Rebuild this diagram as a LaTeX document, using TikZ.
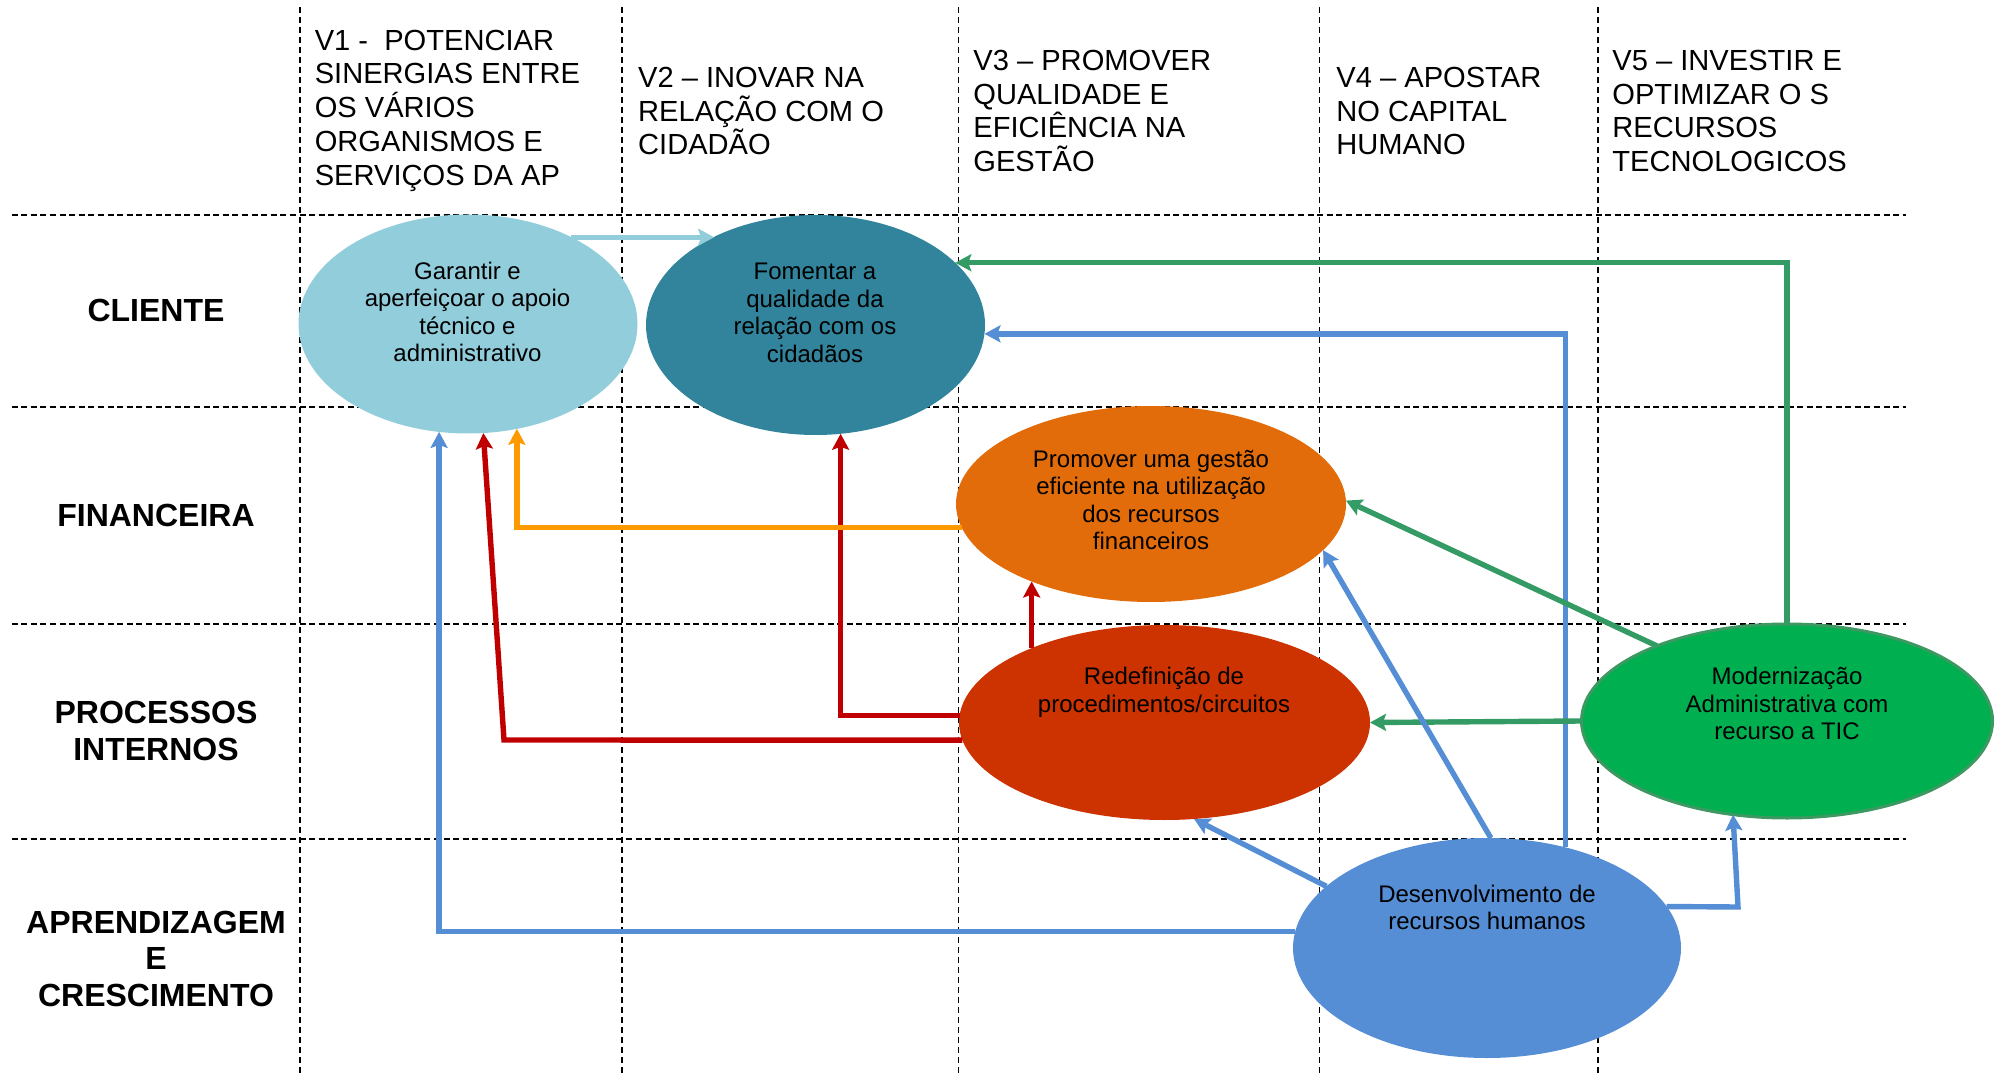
\documentclass[tikz,border=0pt]{standalone}
\usepackage{fontspec}
\setmainfont{Liberation Sans}
\usetikzlibrary{arrows.meta,shapes.geometric}
\definecolor{cGar}{RGB}{146,205,220}
\definecolor{cFom}{RGB}{49,132,155}
\definecolor{cProm}{RGB}{227,108,10}
\definecolor{cRed}{RGB}{204,51,0}
\definecolor{cMod}{RGB}{0,176,80}
\definecolor{cModB}{RGB}{62,152,98}
\definecolor{cDes}{RGB}{85,142,213}
\definecolor{aBlue}{RGB}{85,142,213}
\definecolor{aRed}{RGB}{192,0,0}
\definecolor{aOrange}{RGB}{255,153,0}
\definecolor{aGreen}{RGB}{53,155,100}
\begin{document}
\begin{tikzpicture}[x=0.5pt,y=-0.5pt,
  ell/.style={ellipse,inner sep=0pt,outer sep=0pt},
  etext/.style={align=center,inner sep=0pt,font=\fontsize{12}{13.8}\selectfont},
  head/.style={anchor=west,align=left,inner sep=0pt,font=\fontsize{14.55}{16.9}\selectfont},
  rowlab/.style={align=center,inner sep=0pt,font=\fontsize{16}{18.25}\selectfont\bfseries},
  hgrid/.style={line width=1.4pt,dash pattern=on 3pt off 1.8pt},
  vgrid/.style={line width=0.9pt,dash pattern=on 3pt off 2pt},
  arr/.style={line width=2.7pt,-{Stealth[length=8pt,width=8.5pt,inset=1.5pt]}}
]
\useasboundingbox (0,0) rectangle (2000,1074);
% grid
\foreach \yy in {215,407,624,839} \draw[hgrid] (11.5,\yy) -- (1905.6,\yy);
\foreach \xx in {300,622,958.5,1319.5,1597.6} \draw[vgrid] (\xx,7) -- (\xx,1074);
% ellipses
\node[ell,fill=cGar,minimum width=169.5pt,minimum height=109.5pt] (gar) at (468,324) {};
\node[ell,fill=cFom,minimum width=169.5pt,minimum height=110pt] (fom) at (815.5,325) {};
\node[ell,fill=cProm,minimum width=195pt,minimum height=98pt] (prom) at (1151,504) {};
\node[ell,fill=cRed,minimum width=205.5pt,minimum height=97.5pt] (red) at (1164.5,722.5) {};
\node[ell,fill=cMod,draw=cModB,line width=1.5pt,minimum width=205.5pt,minimum height=97pt] (mod) at (1787,721) {};
\node[ell,fill=cDes,minimum width=194pt,minimum height=110pt] (des) at (1487,948) {};
% ellipse texts
\node[etext] (tgar) at (467.5,312) {Garantir e\\aperfeiçoar o apoio\\técnico e\\administrativo};
\node[etext] (tfom) at (815,313) {Fomentar a\\qualidade da\\relação com os\\cidadãos};
\node[etext] (tprom) at (1151,500) {Promover uma gestão\\eficiente na utilização\\dos recursos\\financeiros};
\node[etext] (tred) at (1164,692) {Redefinição de\\procedimentos/circuitos};
\node[etext] (tmod) at (1787,703.5) {Modernização\\Administrativa com\\recurso a TIC};
\node[etext] (tdes) at (1487,907.5) {Desenvolvimento de\\recursos humanos};
% headers
\node[head] (v1) at (314.4,110.7) {V1 -\ \ POTENCIAR\\SINERGIAS ENTRE\\OS VÁRIOS\\ORGANISMOS E\\SERVIÇOS DA AP};
\node[head] (v2) at (637.8,111) {V2 – INOVAR NA\\RELAÇÃO COM O\\CIDADÃO};
\node[head] (v3) at (973,111) {V3 – PROMOVER\\QUALIDADE E\\EFICIÊNCIA NA\\GESTÃO};
\node[head] (v4) at (1336,111) {V4 – APOSTAR\\NO CAPITAL\\HUMANO};
\node[head] (v5) at (1612,111) {V5 – INVESTIR E\\OPTIMIZAR O S\\RECURSOS\\TECNOLOGICOS};
% row labels
\node[rowlab] (r1) at (156,310) {CLIENTE};
\node[rowlab] (r2) at (156,515) {FINANCEIRA};
\node[rowlab] (r3) at (156,731) {PROCESSOS\\INTERNOS};
\node[rowlab] (r4) at (156,958.6) {APRENDIZAGEM\\E\\CRESCIMENTO};
% corners
\coordinate (rc1) at (504,740);
\coordinate (bc1) at (1738,907);
% arrows
\draw[arr,cGar] (gar.40) -- (gar.40 -| fom.139);
\draw[arr,aGreen] (mod.north) |- (fom.24);
\draw[arr,aBlue] (des.52) |- (fom.-3);
\draw[arr,aBlue] (des.175) -| (gar.-105);
\draw[arr,aRed] (red.185) -- (rc1) -- (gar.-82);
\draw[arr,aRed] (red.178) -| (fom.-77);
\draw[arr,aOrange] (prom.187) -| (gar.-65);
\draw[arr,aRed] (red.151 -| prom.-147) -- (prom.-147);
\draw[arr,aGreen] (mod.west) -- (red.east);
\draw[arr,aGreen] (mod.150) -- (prom.1);
\draw[arr,aBlue] (des.88) -- (prom.-15);
\draw[arr,aBlue] (des.159) -- (red.-73);
\draw[arr,aBlue] (des.13) -- (bc1) -- (mod.-120);
\end{tikzpicture}
\end{document}
